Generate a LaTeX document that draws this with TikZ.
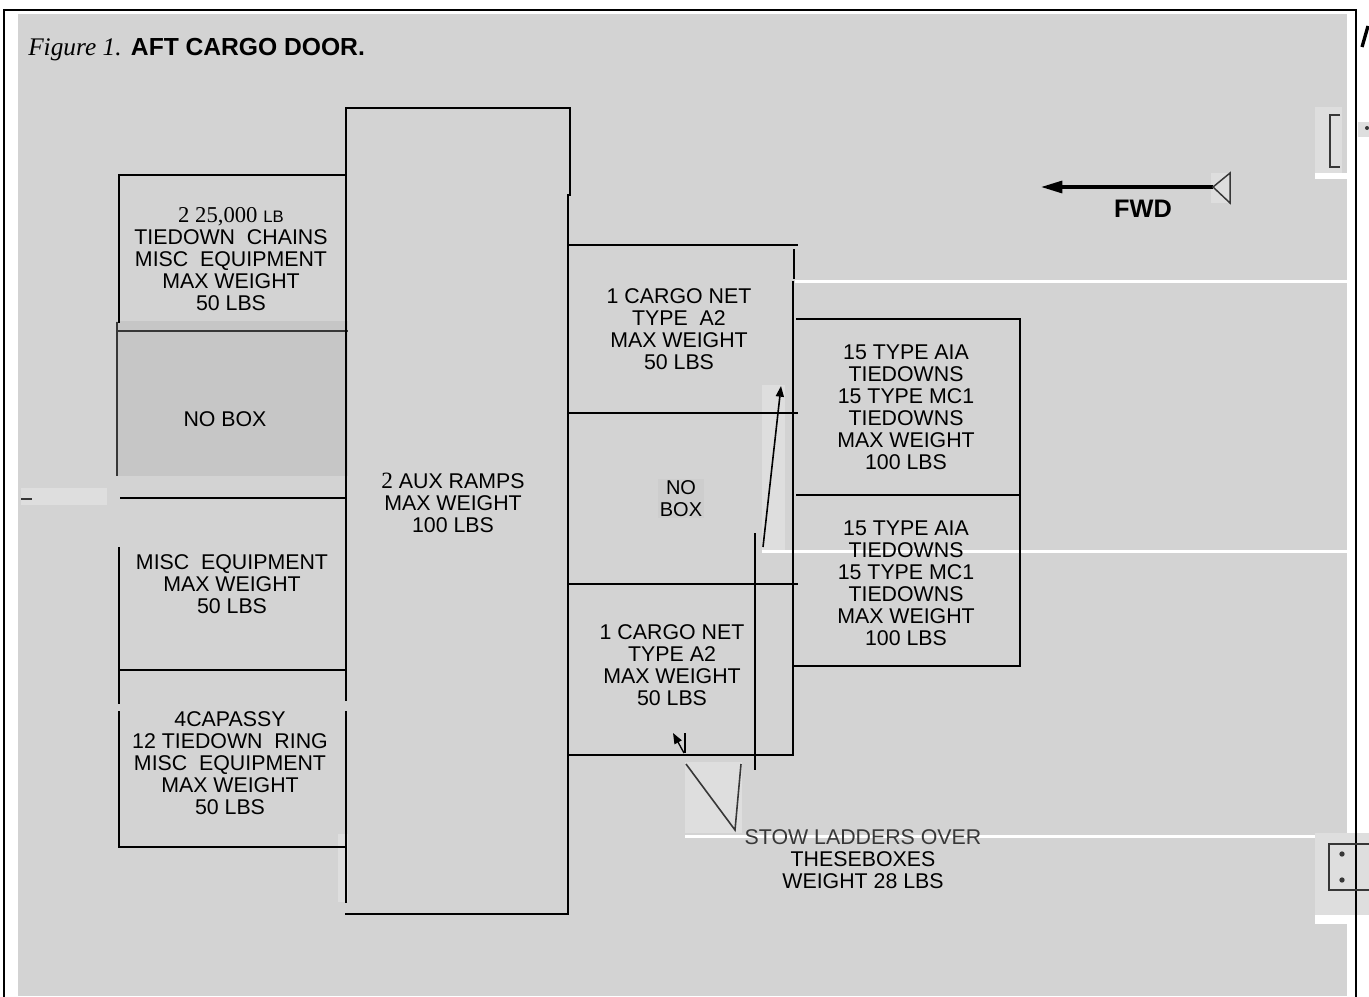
\documentclass[tikz,border=0pt]{standalone}
\usepackage{fontspec}
\setmainfont{Liberation Sans}
\newfontfamily\serifface{Liberation Serif}
\usetikzlibrary{arrows.meta}
\definecolor{bg}{RGB}{211,211,211}
\definecolor{noboxfill}{RGB}{198,198,198}
\definecolor{scanpatch}{RGB}{222,222,222}
\definecolor{midpatch}{RGB}{205,205,205}
\definecolor{scanline}{RGB}{55,55,55}
\begin{document}
\begin{tikzpicture}[x=0.75pt,y=-0.75pt,
  frameline/.style={line width=2.2pt,line cap=rect},
  bx/.style={line width=2.2pt,line cap=rect},
  thinbx/.style={line width=1.2pt},
  lbl/.style={align=center,inner sep=0pt,font=\fontsize{16}{16.5}\selectfont},
  strip/.style={fill=white},
  patch/.style={fill=scanpatch}]
\useasboundingbox (0,0) rectangle (1369,996);
\fill[white] (0,0) rectangle (1369,996);
\fill[bg] (18,14) rectangle (1347,996);
% white scan strips
\fill[strip] (795,280) rectangle (1347,283);
\fill[strip] (762,550) rectangle (1347,553);
\fill[strip] (685,835) rectangle (1347,838);
\fill[strip] (1315,173) rectangle (1347,179);
\fill[strip] (1315,915) rectangle (1352,924);
% light scan patches
\fill[patch] (1211,173) rectangle (1231,203);
\fill[patch] (762,385) rectangle (785,550);
\fill[patch] (685,762) rectangle (742,833);
\fill[patch] (1315,107) rectangle (1342,173);
\fill[patch] (1358,122) rectangle (1369,137);
\fill[patch] (1315,833) rectangle (1369,915);
\fill[patch] (21,488) rectangle (107,505);
\fill[patch] (338,834) rectangle (348,902);
\fill[midpatch] (658,479) rectangle (704,518);
% outer frame
\draw[frameline] (4,996) -- (4,10) -- (1356,10) -- (1356,996);
\draw[line width=2.5pt] (1362,47) -- (1368,26);
% left column
\fill[noboxfill] (116,321) rectangle (348,476);
\draw[bx] (119,322) -- (119,175) -- (346,175);
\draw[line width=1.6pt,scanline] (116,331) -- (348,331);
\draw[line width=1.6pt,scanline] (117,322) -- (117,476);
\draw[bx] (121,498) -- (346,498);
\draw[line width=2pt,scanline] (21,499) -- (32,499);
\draw[bx] (119,548) -- (119,670) -- (346,670);
\draw[bx] (119,670) -- (119,703);
\draw[bx] (119,712) -- (119,847) -- (346,847);
% aux ramps box
\draw[bx] (346,108) -- (346,700);
\draw[bx] (346,712) -- (346,902);
\draw[bx] (346,108) -- (570,108) -- (570,195);
\draw[bx] (568,195) -- (568,914) -- (346,914);
% middle column
\draw[bx] (568,245) -- (797,245);
\draw[thinbx] (794,249) -- (794,279);
\draw[bx] (793,282) -- (793,755) -- (568,755);
\draw[bx] (568,413) -- (797,413);
\draw[bx] (568,584) -- (797,584);
\draw[thinbx] (755,533) -- (755,770);
% right column
\draw[bx] (797,319) -- (1020,319) -- (1020,666) -- (793,666);
\draw[bx] (797,495) -- (1020,495);
% texts
\node[anchor=base west,inner sep=0pt] (title) at (28,55)
  {{\serifface\itshape\fontsize{19}{19}\selectfont Figure 1.}\hspace{7pt}{\bfseries\fontsize{18.5}{19}\selectfont AFT\hspace{5pt}CARGO\hspace{5pt}DOOR.}};
\node[lbl] (txtA) at (231,259.5)
  {{\serifface\fontsize{17}{16.5}\selectfont 2 25,000} {\fontsize{12.5}{16.5}\selectfont LB}\\TIEDOWN~~CHAINS\\MISC~~EQUIPMENT\\MAX WEIGHT\\50 LBS};
\node[lbl] (txtNoBoxL) at (225,419) {NO BOX};
\node[lbl] (txtMisc) at (232,584.5) {MISC~~EQUIPMENT\\MAX WEIGHT\\50 LBS};
\node[lbl] (txtCap) at (230,763) {4CAPASSY\\12 TIEDOWN~~RING\\MISC~~EQUIPMENT\\MAX WEIGHT\\50 LBS};
\node[lbl] (txtAux) at (453,502.5) {{\serifface\fontsize{17.5}{16.5}\selectfont 2} AUX RAMPS\\MAX WEIGHT\\100 LBS};
\node[lbl] (txtNet1) at (679,329) {1 CARGO NET\\TYPE~~A2\\MAX WEIGHT\\50 LBS};
\node[lbl,font=\fontsize{15}{16.5}\selectfont] (txtNoBoxM) at (681,499) {NO\\BOX};
\node[lbl] (txtNet2) at (672,665.5) {1 CARGO NET\\TYPE A2\\MAX WEIGHT\\50 LBS};
\node[lbl] (txtR1) at (906,407.5) {15 TYPE AIA\\TIEDOWNS\\15 TYPE MC1\\TIEDOWNS\\MAX WEIGHT\\100 LBS};
\node[lbl] (txtR2) at (906,583) {15 TYPE AIA\\TIEDOWNS\\15 TYPE MC1\\TIEDOWNS\\MAX WEIGHT\\100 LBS};
\node[lbl] (txtStow) at (863,859.5) {{\color{scanline}STOW LADDERS OVER}\\THESEBOXES\\WEIGHT 28 LBS};
\node[inner sep=0pt,font=\bfseries\fontsize{19}{19}\selectfont] (fwd) at (1143,209) {FWD};
% FWD arrow
\coordinate (fwdtail) at (1213,187);
\coordinate (fwdtip) at (1041,187);
\draw[line width=2.4pt,-{Triangle[length=16pt,width=9pt]}] (fwdtail) -- (fwdtip);
\draw[scanline,line width=1.1pt] (1230,173) -- (fwdtail) -- (1230,203) -- cycle;
% middle arrow
\coordinate (arrA) at (763,547);
\coordinate (arrB) at (781,386);
\draw[line width=1.2pt,-{Triangle[length=8pt,width=6pt]}] (arrA) -- (arrB);
% leader to stow text
\coordinate (vL) at (686,764);
\coordinate (vB) at (735,830);
\coordinate (vR) at (741,764);
\draw[scanline,line width=1.2pt] (vL) -- (vB) -- (vR);
\coordinate (smA) at (684,753);
\coordinate (smB) at (673,733);
\draw[line width=1pt,-{Triangle[length=8pt,width=6pt]}] (smA) -- (smB);
\draw[line width=0.9pt] (685,733) -- (685,753);
% scan marks at right
\draw[scanline,line width=1.5pt] (1340,115) -- (1330,115) -- (1330,167) -- (1340,167);
\fill[scanline] (1367,128) circle (1.5pt);
\draw[scanline,line width=1.5pt] (1369,844) -- (1329,844) -- (1329,890) -- (1369,890);
\fill[scanline] (1342,854) circle (2pt);
\fill[scanline] (1342,880) circle (2pt);
\end{tikzpicture}
\end{document}
